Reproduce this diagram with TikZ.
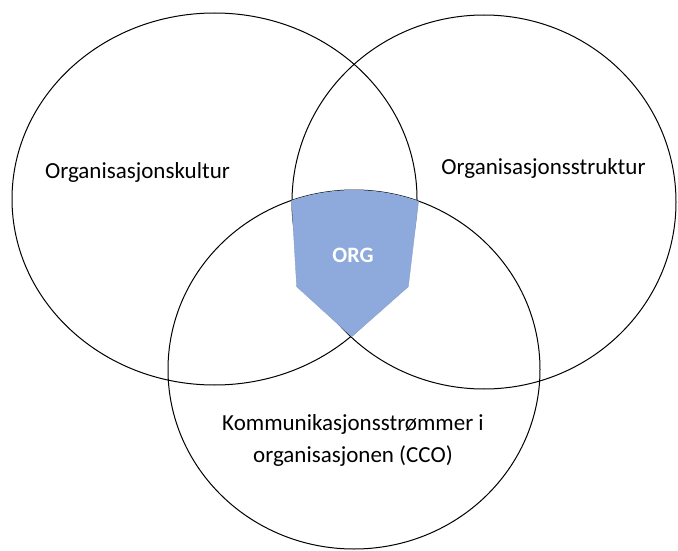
\documentclass[tikz,border=0pt]{standalone}
\usepackage{fontspec}
\setmainfont{Carlito}
\usepackage{tikz}
\usetikzlibrary{positioning,calc}
\definecolor{orgblue}{HTML}{8EA9DB}

\begin{document}
\begin{tikzpicture}[x=1pt,y=-1pt,font=\fontsize{23}{32}\selectfont]
            \useasboundingbox (0,0) rectangle (678,551);
            \coordinate (kultur) at (214.5,199);
            \coordinate (struktur) at (484,202);
            \coordinate (cco) at (354,369.5);
            \draw[line width=1pt] (kultur) ellipse [x radius=202.5pt, y radius=186pt];
            \draw[line width=1pt] (struktur) ellipse [x radius=192pt, y radius=187pt];
            \draw[line width=1pt] (cco) ellipse [x radius=186pt, y radius=179.5pt];
            % ORG-feltet ligger over sirklene, toppen foelger den nederste sirkelen
            \begin{scope}
                \clip (cco) ellipse [x radius=186pt, y radius=179.5pt];
                \fill[orgblue, draw=orgblue!80!gray, line width=0.4pt] (291.7,170) -- (418.3,170) -- (418.3,203.3) -- (408.3,286.7)
                    -- (351.7,336.7) -- (296.7,286.7) -- (291.7,201.7) -- cycle;
            \end{scope}
            \node (kulturtekst) at (137.5,172) {Organisasjonskultur};
            \node (strukturtekst) at (543.5,168) {Organisasjonsstruktur};
            \node[align=center] (ccotekst) at (353,440) {Kommunikasjonsstrømmer i\\organisasjonen (CCO)};
            \node[text=white, font=\fontsize{22}{28}\selectfont\bfseries] (org) at (353,255) {ORG};
        \end{tikzpicture}
\end{document}
